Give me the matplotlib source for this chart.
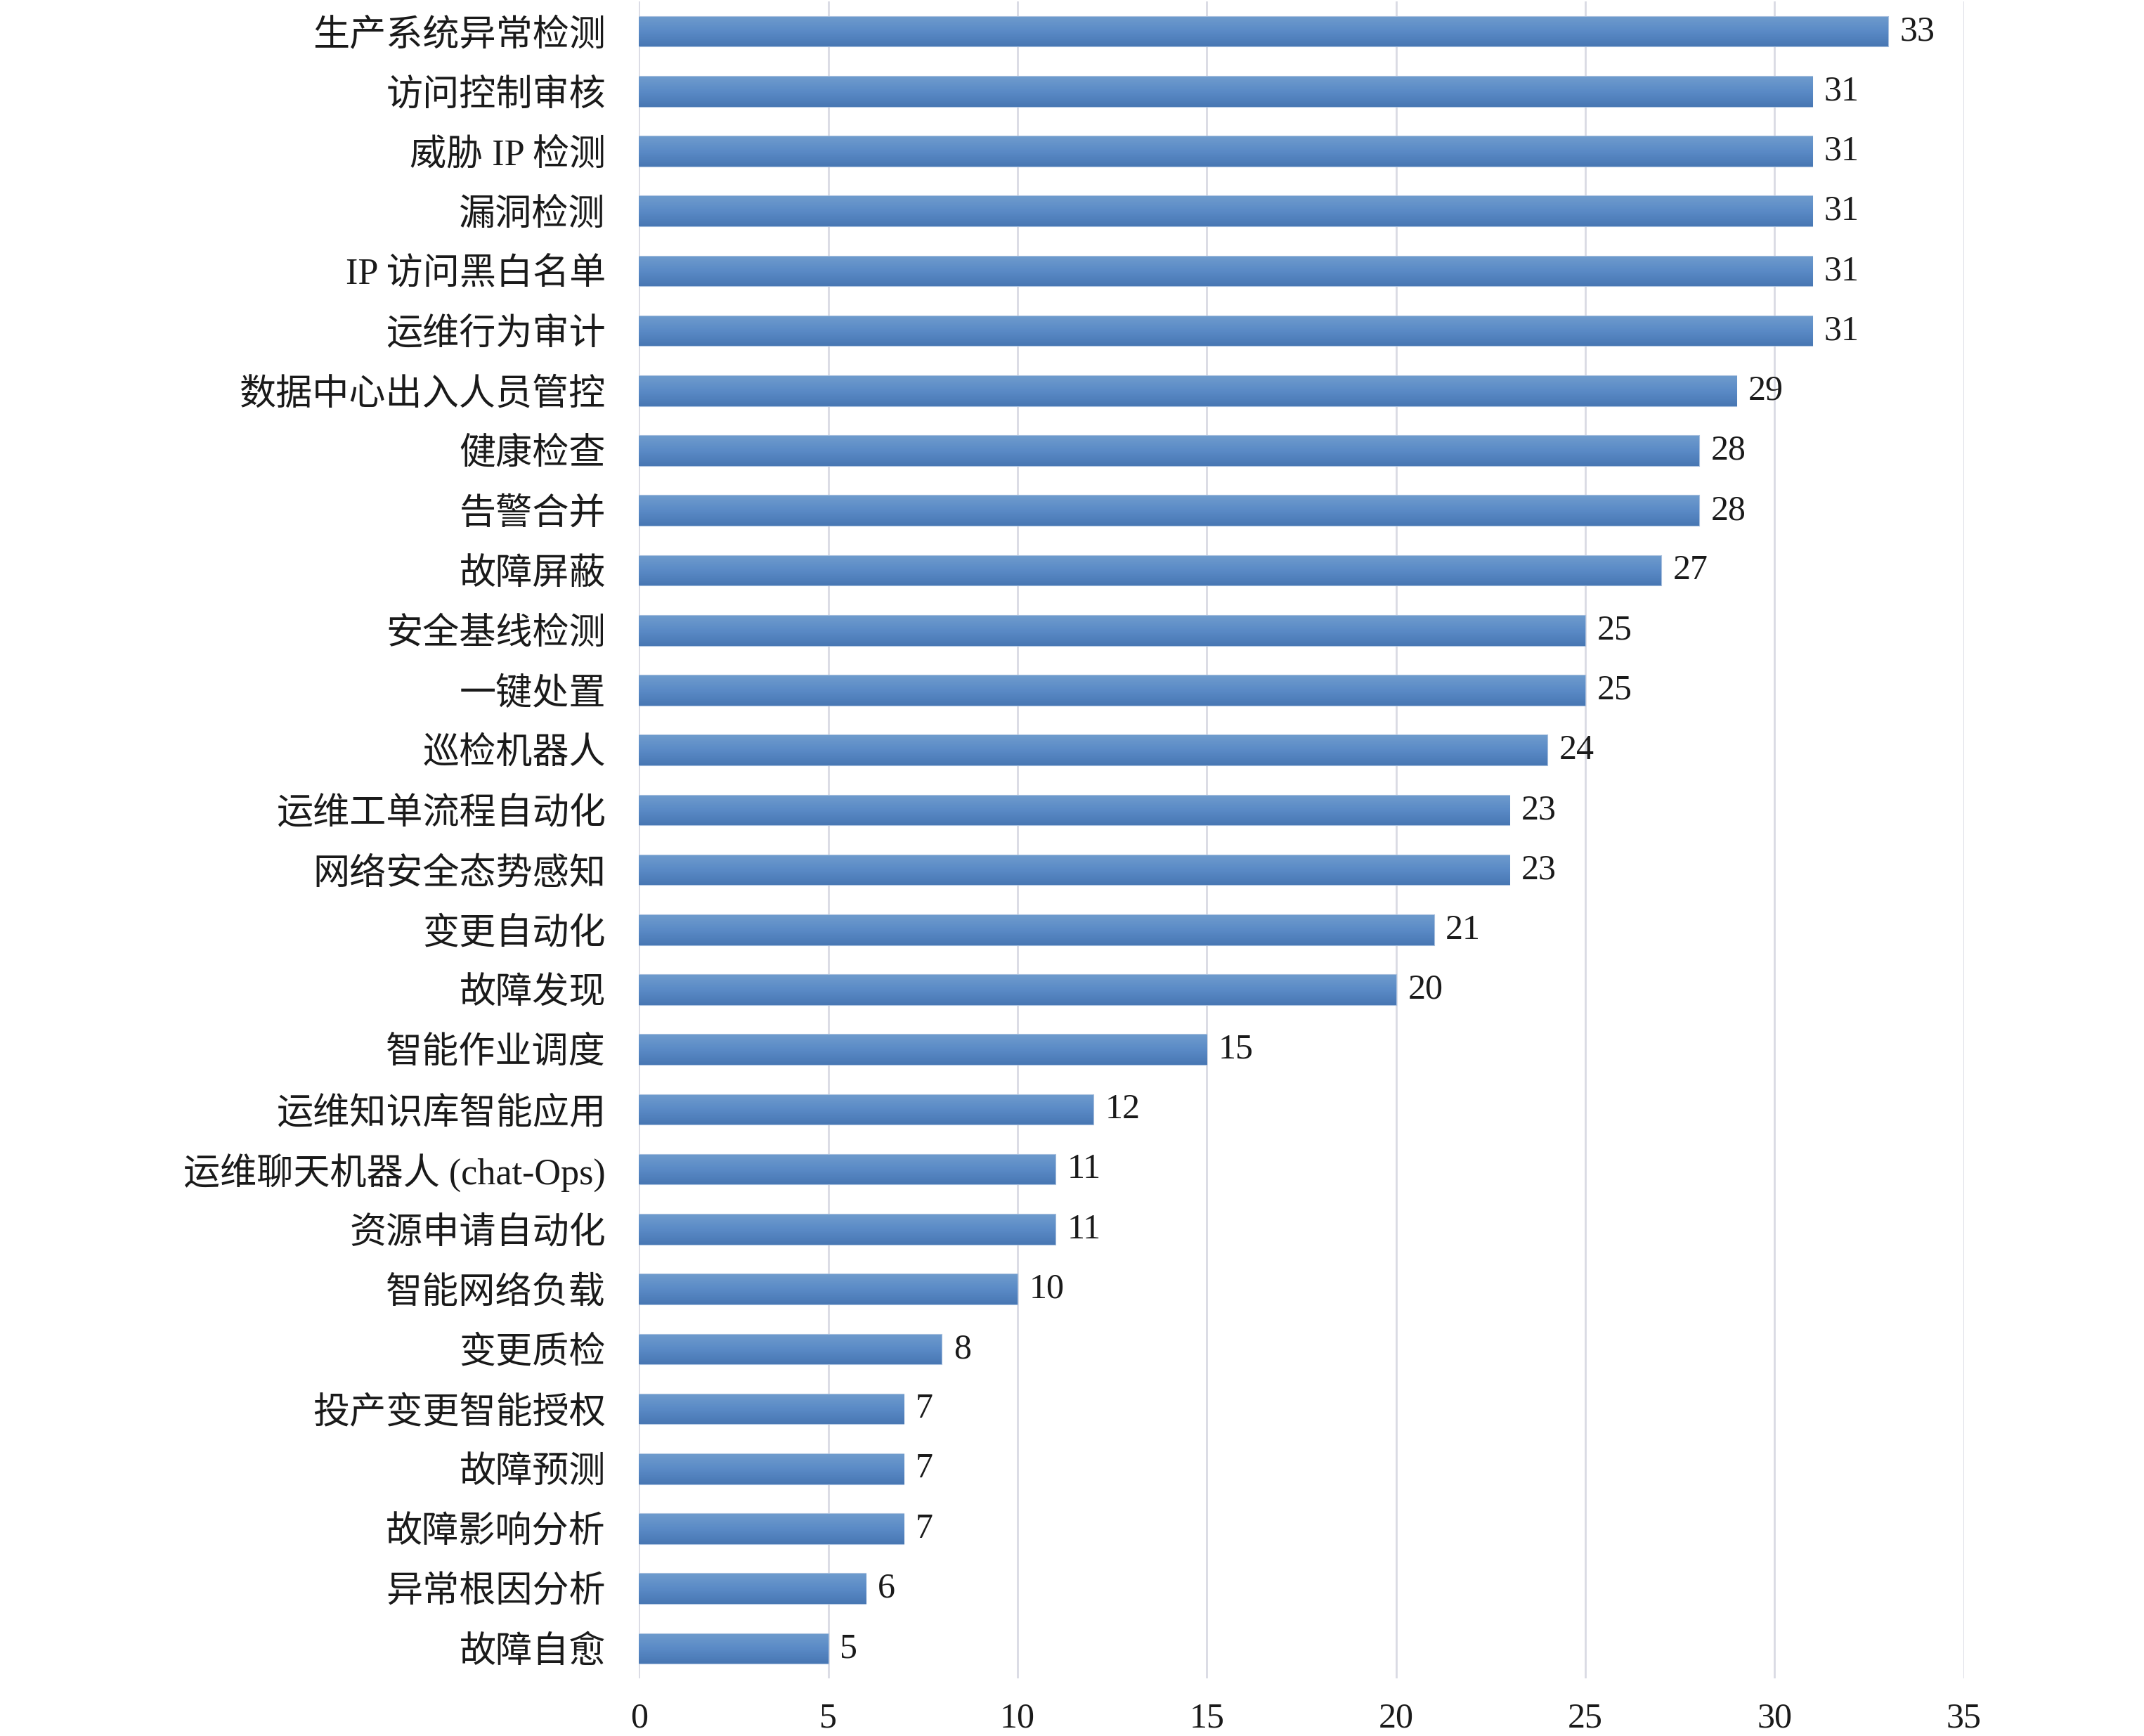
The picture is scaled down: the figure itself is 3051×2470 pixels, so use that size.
import numpy as np
import matplotlib
matplotlib.use("Agg")
import matplotlib.pyplot as plt
from matplotlib.colors import LinearSegmentedColormap

categories = ["生产系统异常检测", "访问控制审核", "威胁 IP 检测", "漏洞检测", "IP 访问黑白名单",
              "运维行为审计", "数据中心出入人员管控", "健康检查", "告警合并", "故障屏蔽",
              "安全基线检测", "一键处置", "巡检机器人", "运维工单流程自动化", "网络安全态势感知",
              "变更自动化", "故障发现", "智能作业调度", "运维知识库智能应用", "运维聊天机器人 (chat-Ops)",
              "资源申请自动化", "智能网络负载", "变更质检", "投产变更智能授权", "故障预测",
              "故障影响分析", "异常根因分析", "故障自愈"]
values = [33, 31, 31, 31, 31, 31, 29, 28, 28, 27, 25, 25, 24, 23, 23, 21, 20, 15, 12, 11,
          11, 10, 8, 7, 7, 7, 6, 5]
xticks = [0, 5, 10, 15, 20, 25, 30, 35]

plt.rcParams['font.family'] = ['Liberation Serif', 'Noto Sans CJK SC']

fig = plt.figure(figsize=(30.51, 24.70), dpi=100)
ax = fig.add_axes([0.298, 0.033, 0.618, 0.966])

y = np.arange(len(categories))
bars = ax.barh(y, values, height=0.5, color="#5A8AC6", edgecolor="#A9C0DE",
               linewidth=1.5, zorder=2)

cmap = LinearSegmentedColormap.from_list("g", ["#6E9BCD", "#5A8AC6", "#4877B3"])
grad = np.linspace(0, 1, 64).reshape(-1, 1)
for b in bars:
    x0, y0, w, h = b.get_x(), b.get_y(), b.get_width(), b.get_height()
    im = ax.imshow(grad, cmap=cmap, aspect="auto", extent=(x0, x0 + w, y0 + h, y0),
                   zorder=3, interpolation="bicubic")
    im.set_clip_path(b)

for b, v in zip(bars, values):
    ax.annotate(str(v), (b.get_width(), b.get_y() + b.get_height() / 2),
                xytext=(12, 0), textcoords="offset points", ha="left", va="center",
                fontsize=36, color="#1a1a1a")

ax.set_xlim(0, 35)
ax.set_ylim(len(categories) - 0.5, -0.5)
ax.set_xticks(xticks)
ax.set_xticklabels([str(t) for t in xticks], fontsize=36, color="#1a1a1a")
ax.set_yticks(y)
ax.set_yticklabels(categories, fontsize=37.5, color="#1a1a1a")
ax.tick_params(axis="x", length=0, pad=24)
ax.tick_params(axis="y", length=0, pad=34)
ax.grid(axis="x", color="#D9DAE3", linewidth=2, zorder=0)
ax.set_axisbelow(True)
for s in ax.spines.values():
    s.set_visible(False)

fig.savefig("out.png", dpi=100, facecolor="white")
